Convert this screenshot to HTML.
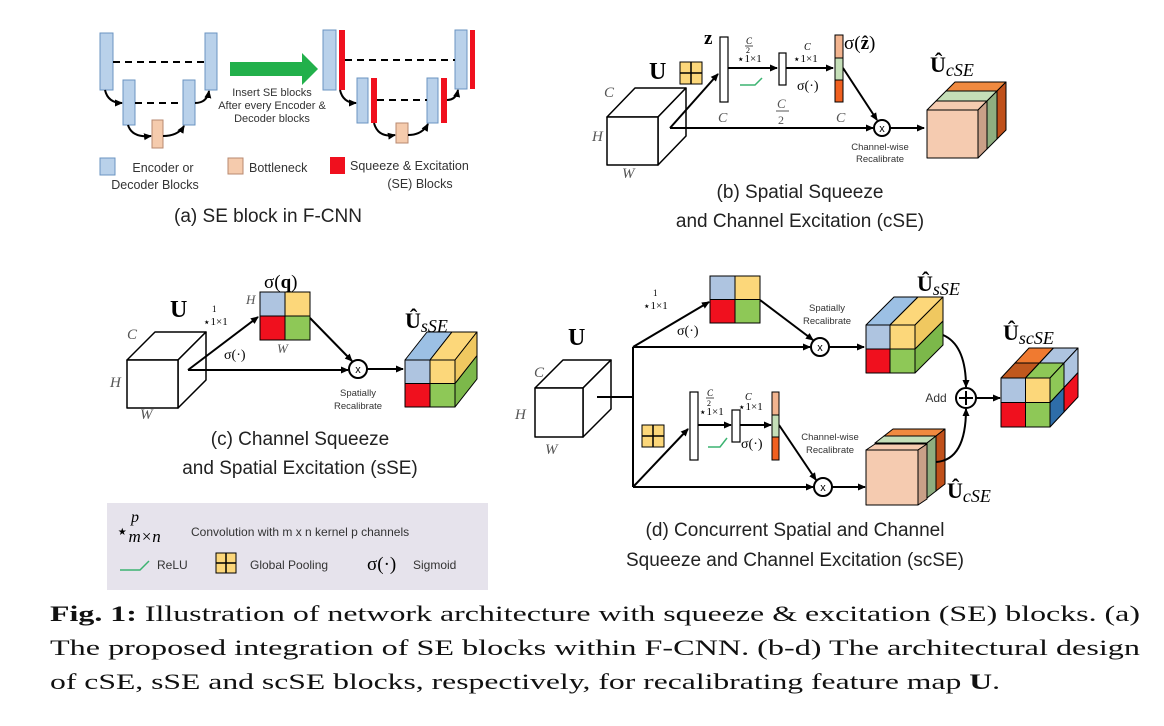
<!DOCTYPE html>
<html><head><meta charset="utf-8"><style>
html,body{margin:0;padding:0;background:#fff;}
svg{display:block;}
.s{font-family:"Liberation Sans",sans-serif;}
.r{font-family:"Liberation Serif",serif;}
.it{font-family:"Liberation Serif",serif;font-style:italic;fill:#555;}
</style></head><body>
<svg id="c" width="1164" height="726" viewBox="0 0 1164 726" xmlns="http://www.w3.org/2000/svg">
<defs>
<marker id="ah" markerWidth="8" markerHeight="8" refX="7" refY="4" orient="auto" markerUnits="userSpaceOnUse"><path d="M0,0.5 L8,4 L0,7.5z" fill="#000"/></marker>
</defs>
<rect x="107" y="503" width="381" height="87" fill="#e6e3ec"/>
<g id="shapes"></g>

<!-- (a) -->
<g stroke="#000" stroke-width="2" stroke-dasharray="7,5">
<line x1="113" y1="62" x2="205" y2="62"/><line x1="135" y1="103" x2="183" y2="103"/>
<line x1="345" y1="60" x2="455" y2="60"/><line x1="377" y1="100" x2="427" y2="100"/>
</g>
<g fill="none" stroke="#000" stroke-width="2" marker-end="url(#ah)">
<path d="M105,90 Q108,103 122,103"/><path d="M128,125 Q132,138 151,136"/>
<path d="M163,136 Q178,136 184,126"/><path d="M195,103 Q207,103 209,91"/>
<path d="M340,90 Q343,103 356,103"/><path d="M374,123 Q378,138 395,135"/>
<path d="M408,135 Q422,135 428,124"/><path d="M447,100 Q456,100 458,90"/>
</g>
<path d="M230,62 H302 V53 L318,69 L302,85 V76 H230z" fill="#22b04b"/>
<g class="s" font-size="11" text-anchor="middle" fill="#333">
<text x="272" y="96">Insert SE blocks</text>
<text x="272" y="109">After every Encoder &amp;</text>
<text x="272" y="122">Decoder blocks</text>
</g>
<rect x="100" y="158" width="15" height="17" fill="#b9d1ea" stroke="#6b94c2"/>
<rect x="228" y="158" width="15" height="16" fill="#f5cbad" stroke="#b88a70"/>
<rect x="330" y="157" width="15" height="17" fill="#f0101e"/>
<g class="s" font-size="12.5" fill="#333">
<text x="163" y="172" text-anchor="middle">Encoder or</text>
<text x="155" y="189" text-anchor="middle">Decoder Blocks</text>
<text x="249" y="172">Bottleneck</text>
<text x="350" y="170">Squeeze &amp; Excitation</text>
<text x="420" y="188" text-anchor="middle">(SE) Blocks</text>
</g>
<text class="s" x="268" y="222" font-size="19" text-anchor="middle" fill="#222">(a) SE block in F-CNN</text>

<!-- (b) -->
<g fill="none" stroke="#000" stroke-width="2">
<line x1="670" y1="128" x2="718" y2="74" marker-end="url(#ah)"/>
<line x1="670" y1="128" x2="873" y2="128" marker-end="url(#ah)"/>
<line x1="728" y1="68" x2="777" y2="68" marker-end="url(#ah)"/>
<line x1="786" y1="68" x2="833" y2="68" marker-end="url(#ah)"/>
<line x1="843" y1="68" x2="877" y2="120" marker-end="url(#ah)"/>
<line x1="890" y1="128" x2="924" y2="128" marker-end="url(#ah)"/>
<circle cx="882" cy="128" r="8" fill="#fff"/>
</g>
<rect x="720" y="37" width="8" height="65" fill="#fff" stroke="#000" stroke-width="1.2"/>
<rect x="779" y="53" width="7" height="32" fill="#fff" stroke="#000" stroke-width="1.2"/>
<rect x="835" y="35" width="8" height="23" fill="#f2b48f" stroke="#000"/>
<rect x="835" y="58" width="8" height="22" fill="#c5dfb8" stroke="#000"/>
<rect x="835" y="80" width="8" height="22" fill="#f06020" stroke="#000"/>
<path d="M740,85 H755 L762,78" fill="none" stroke="#3cb371" stroke-width="1.5"/>
<text class="s" x="882" y="132" font-size="11" text-anchor="middle">x</text>
<g class="s" font-size="9.5" text-anchor="middle" fill="#333">
<text x="880" y="150">Channel-wise</text><text x="880" y="162">Recalibrate</text>
</g>
<g class="r">
<text x="704" y="44" font-size="19" font-weight="bold">z</text>
<text x="649" y="79" font-size="24" font-weight="bold">U</text>
<text x="844" y="49" font-size="19">σ(<tspan font-weight="bold">ẑ</tspan>)</text>
<text x="930" y="72" font-size="22"><tspan font-weight="bold">Û</tspan><tspan font-style="italic" font-size="18" dy="4">cSE</tspan></text>
<text x="737" y="63" font-size="12">⋆<tspan font-size="11" dy="-1">1×1</tspan></text>
<text x="746" y="44" font-size="9" font-style="italic">C</text><line x1="745" y1="46" x2="753" y2="46" stroke="#000" stroke-width=".7"/><text x="746" y="53" font-size="8">2</text>
<text x="793" y="63" font-size="12">⋆<tspan font-size="11" dy="-1">1×1</tspan></text>
<text x="804" y="50" font-size="10" font-style="italic">C</text>
<text x="797" y="90" font-size="14">σ(·)</text>
<text x="718" y="122" class="it" font-size="14">C</text>
<text x="777" y="108" class="it" font-size="13">C</text><line x1="776" y1="111" x2="789" y2="111" stroke="#555"/><text x="778" y="124" font-size="12" fill="#555">2</text>
<text x="836" y="122" class="it" font-size="14">C</text>
<text x="604" y="97" class="it" font-size="15">C</text>
<text x="592" y="141" class="it" font-size="15">H</text>
<text x="622" y="178" class="it" font-size="15">W</text>
</g>
<g class="s" font-size="19" text-anchor="middle" fill="#222">
<text x="800" y="198">(b) Spatial Squeeze</text>
<text x="800" y="227">and Channel Excitation (cSE)</text>
</g>

<!-- (c) -->
<g fill="none" stroke="#000" stroke-width="2">
<line x1="188" y1="370" x2="258" y2="317" marker-end="url(#ah)"/>
<line x1="188" y1="370" x2="348" y2="370" marker-end="url(#ah)"/>
<line x1="310" y1="318" x2="352" y2="361" marker-end="url(#ah)"/>
<line x1="367" y1="369" x2="403" y2="369" marker-end="url(#ah)"/>
<circle cx="358" cy="369" r="9" fill="#fff"/>
</g>
<text class="s" x="358" y="373" font-size="11" text-anchor="middle">x</text>
<g class="s" font-size="9.5" text-anchor="middle" fill="#333">
<text x="358" y="396">Spatially</text><text x="358" y="409">Recalibrate</text>
</g>
<g class="r">
<text x="170" y="317" font-size="24" font-weight="bold">U</text>
<text x="264" y="288" font-size="19">σ(<tspan font-weight="bold">q</tspan>)</text>
<text x="203" y="326" font-size="12">⋆<tspan font-size="11" dy="-1">1×1</tspan></text><text x="212" y="312" font-size="9">1</text>
<text x="224" y="359" font-size="14">σ(·)</text>
<text x="246" y="304" class="it" font-size="13">H</text>
<text x="277" y="353" class="it" font-size="13">W</text>
<text x="405" y="328" font-size="22"><tspan font-weight="bold">Û</tspan><tspan font-style="italic" font-size="18" dy="4">sSE</tspan></text>
<text x="127" y="339" class="it" font-size="15">C</text>
<text x="110" y="387" class="it" font-size="15">H</text>
<text x="140" y="419" class="it" font-size="15">W</text>
</g>
<g class="s" font-size="19" text-anchor="middle" fill="#222">
<text x="300" y="445">(c) Channel Squeeze</text>
<text x="300" y="474">and Spatial Excitation (sSE)</text>
</g>

<!-- legend -->
<text class="r" x="116" y="538" font-size="20">⋆<tspan font-style="italic" font-size="17" dy="4">m×n</tspan></text>
<text class="r" x="131" y="522" font-size="16" font-style="italic">p</text>
<text class="s" x="191" y="536" font-size="12" fill="#333">Convolution with m x n kernel p channels</text>
<path d="M120,570 H140 L149,561" fill="none" stroke="#3cb371" stroke-width="1.5"/>
<text class="s" x="157" y="569" font-size="12" fill="#333">ReLU</text>
<text class="s" x="250" y="569" font-size="12" fill="#333">Global Pooling</text>
<text class="r" x="367" y="570" font-size="19">σ(·)</text>
<text class="s" x="413" y="569" font-size="12" fill="#333">Sigmoid</text>

<!-- (d) -->
<g fill="none" stroke="#000" stroke-width="2">
<line x1="597" y1="397" x2="633" y2="397"/>
<line x1="633" y1="347" x2="633" y2="487"/>
<line x1="633" y1="347" x2="709" y2="302" marker-end="url(#ah)"/>
<line x1="633" y1="347" x2="810" y2="347" marker-end="url(#ah)"/>
<line x1="760" y1="300" x2="813" y2="340" marker-end="url(#ah)"/>
<line x1="829" y1="347" x2="864" y2="347" marker-end="url(#ah)"/>
<line x1="633" y1="487" x2="688" y2="429" marker-end="url(#ah)"/>
<line x1="633" y1="487" x2="813" y2="487" marker-end="url(#ah)"/>
<line x1="698" y1="425" x2="731" y2="425" marker-end="url(#ah)"/>
<line x1="740" y1="425" x2="771" y2="425" marker-end="url(#ah)"/>
<line x1="779" y1="425" x2="816" y2="480" marker-end="url(#ah)"/>
<line x1="832" y1="487" x2="865" y2="487" marker-end="url(#ah)"/>
<path d="M943,335 Q966,345 966,387" marker-end="url(#ah)"/>
<path d="M936,462 Q966,460 966,409" marker-end="url(#ah)"/>
<line x1="976" y1="398" x2="1000" y2="398" marker-end="url(#ah)"/>
<circle cx="820" cy="347" r="9" fill="#fff"/>
<circle cx="823" cy="487" r="9" fill="#fff"/>
<circle cx="966" cy="398" r="10" fill="#fff"/>
</g>
<path d="M966,391 V405 M959,398 H973" stroke="#000" stroke-width="2"/>
<rect x="690" y="392" width="8" height="68" fill="#fff" stroke="#000" stroke-width="1.2"/>
<rect x="732" y="410" width="8" height="32" fill="#fff" stroke="#000" stroke-width="1.2"/>
<rect x="772" y="392" width="7" height="23" fill="#f2b48f" stroke="#000"/>
<rect x="772" y="415" width="7" height="22" fill="#c5dfb8" stroke="#000"/>
<rect x="772" y="437" width="7" height="23" fill="#f06020" stroke="#000"/>
<path d="M708,447 H720 L727,438" fill="none" stroke="#3cb371" stroke-width="1.5"/>
<g class="s" font-size="11" text-anchor="middle"><text x="820" y="351">x</text><text x="823" y="491">x</text></g>
<g class="s" font-size="9.5" text-anchor="middle" fill="#333">
<text x="827" y="311">Spatially</text><text x="827" y="324">Recalibrate</text>
<text x="830" y="440">Channel-wise</text><text x="830" y="453">Recalibrate</text>
</g>
<text class="s" x="936" y="402" font-size="12" text-anchor="middle" fill="#333">Add</text>
<g class="r">
<text x="568" y="345" font-size="24" font-weight="bold">U</text>
<text x="643" y="310" font-size="12">⋆<tspan font-size="11" dy="-1">1×1</tspan></text><text x="653" y="296" font-size="9">1</text>
<text x="677" y="335" font-size="14">σ(·)</text>
<text x="699" y="416" font-size="12">⋆<tspan font-size="11" dy="-1">1×1</tspan></text>
<text x="707" y="396" font-size="9" font-style="italic">C</text><line x1="706" y1="398" x2="714" y2="398" stroke="#000" stroke-width=".7"/><text x="707" y="406" font-size="8">2</text>
<text x="738" y="411" font-size="12">⋆<tspan font-size="11" dy="-1">1×1</tspan></text><text x="745" y="400" font-size="10" font-style="italic">C</text>
<text x="741" y="448" font-size="14">σ(·)</text>
<text x="917" y="291" font-size="22"><tspan font-weight="bold">Û</tspan><tspan font-style="italic" font-size="18" dy="4">sSE</tspan></text>
<text x="1003" y="340" font-size="22"><tspan font-weight="bold">Û</tspan><tspan font-style="italic" font-size="18" dy="4">scSE</tspan></text>
<text x="947" y="498" font-size="22"><tspan font-weight="bold">Û</tspan><tspan font-style="italic" font-size="18" dy="4">cSE</tspan></text>
<text x="534" y="377" class="it" font-size="15">C</text>
<text x="515" y="419" class="it" font-size="15">H</text>
<text x="545" y="454" class="it" font-size="15">W</text>
</g>
<g class="s" font-size="19" text-anchor="middle" fill="#222">
<text x="795" y="536">(d) Concurrent Spatial and Channel</text>
<text x="795" y="566">Squeeze and Channel Excitation (scSE)</text>
</g>

<!-- caption -->
<g class="r" font-size="22" fill="#111">
<text x="50" y="621" textLength="1090" lengthAdjust="spacingAndGlyphs"><tspan font-weight="bold">Fig. 1:</tspan> Illustration of network architecture with squeeze &amp; excitation (SE) blocks. (a)</text>
<text x="50" y="655" textLength="1090" lengthAdjust="spacingAndGlyphs">The proposed integration of SE blocks within F-CNN. (b-d) The architectural design</text>
<text x="50" y="689" textLength="950" lengthAdjust="spacingAndGlyphs">of cSE, sSE and scSE blocks, respectively, for recalibrating feature map <tspan font-weight="bold">U</tspan>.</text>
</g>
</svg>
<script>
var g=document.getElementById('shapes'),NS='http://www.w3.org/2000/svg';
function el(t,a){var e=document.createElementNS(NS,t);for(var k in a)e.setAttribute(k,a[k]);g.appendChild(e);return e;}
function poly(p,f,sw){el('polygon',{points:p.map(function(q){return q.join(',')}).join(' '),fill:f,stroke:'#000','stroke-width':sw||1,'stroke-linejoin':'round'});}
function box(x,y,w,h,dx,dy,f,t,s,sw){
 poly([[x,y],[x+w,y],[x+w+dx,y+dy],[x+dx,y+dy]],t||f,sw);
 poly([[x+w,y],[x+w+dx,y+dy],[x+w+dx,y+h+dy],[x+w,y+h]],s||f,sw);
 poly([[x,y],[x+w,y],[x+w,y+h],[x,y+h]],f,sw);}
function r(x,y,w,h,f,st){el('rect',{x:x,y:y,width:w,height:h,fill:f,stroke:st||'none','stroke-width':1});}
var B='#b9d1ea',BS='#6b94c2',RED='#f0101e',SAL='#f5cbad';
r(100,33,13,57,B,BS);r(205,33,12,57,B,BS);r(123,80,12,45,B,BS);r(183,80,12,45,B,BS);r(152,120,11,28,SAL,'#b88a70');
r(323,30,13,60,B,BS);r(339,30,6,60,RED);r(455,30,12,59,B,BS);r(470,30,5,59,RED);
r(357,78,11,45,B,BS);r(371,78,6,45,RED);r(427,78,11,45,B,BS);r(441,78,6,45,RED);r(396,123,12,20,SAL,'#b88a70');
function pool(x,y,s){r(x,y,s,s,'#fcd77a','#000');el('path',{d:'M'+(x+s/2)+','+y+'V'+(y+s)+'M'+x+','+(y+s/2)+'H'+(x+s),stroke:'#000','stroke-width':1.5});}
pool(680,62,22);pool(642,425,22);pool(216,553,20);
box(607,117,51,48,28,-29,'#fff','#fff','#fff',1.5);
box(127,360,51,48,28,-28,'#fff','#fff','#fff',1.5);
box(535,388,48,49,28,-28,'#fff','#fff','#fff',1.5);
box(946,91,51,48,9,-9,'#e8702a','#f08a40','#c0501a');
box(936,101,51,48,10,-10,'#b9d4a8','#c5dfb8','#8fae80');
box(927,110,51,48,9,-9,'#f5cbb0','#f5cbb0','#c9a088');
box(884,436,52,55,9,-7,'#e8702a','#f08a40','#c0501a');
box(875,443,52,55,9,-7,'#b9d4a8','#c5dfb8','#8fae80');
box(866,450,52,55,9,-6,'#f5cbb0','#f5cbb0','#c9a088');
var BL='#aec4e0',YE='#fcd77a',GR='#8ec857';
function grid(x,y,w,h){r(x,y,w/2,h/2,BL,'#000');r(x+w/2,y,w/2,h/2,YE,'#000');r(x,y+h/2,w/2,h/2,RED,'#000');r(x+w/2,y+h/2,w/2,h/2,GR,'#000');}
grid(260,292,50,48);grid(710,276,50,47);
function ssecube(x,y,w,h,dx,dy,cw){var ch=h/2,cw2=w-cw;
 box(x,y+ch,cw,ch,dx,dy,RED,RED,GR);box(x+cw,y+ch,cw2,ch,dx,dy,GR,GR,'#7cb84a');
 box(x,y,cw,ch,dx,dy,BL,'#9cc0e4',YE);box(x+cw,y,cw2,ch,dx,dy,YE,YE,'#f0c860');}
ssecube(405,360,50,47,22,-28,25);
ssecube(866,325,49,48,28,-28,24);
(function(){var x=1001,y=378,w=49,h=49,cw=w/2,ch=h/2,dx=14,dy=-15;
 var X=x+dx,Y=y+dy;
 box(X,Y+ch,cw,ch,dx,dy,RED,RED,GR);box(X+cw,Y+ch,cw,ch,dx,dy,GR,GR,RED);
 box(X,Y,cw,ch,dx,dy,YE,'#f07a30',BL);box(X+cw,Y,cw,ch,dx,dy,BL,BL,BL);
 box(x,y+ch,cw,ch,dx,dy,RED,RED,GR);box(x+cw,y+ch,cw,ch,dx,dy,GR,GR,'#2e6da8');
 box(x,y,cw,ch,dx,dy,BL,'#c0581e',YE);box(x+cw,y,cw,ch,dx,dy,YE,GR,GR);
})();
</script>
</body></html>
